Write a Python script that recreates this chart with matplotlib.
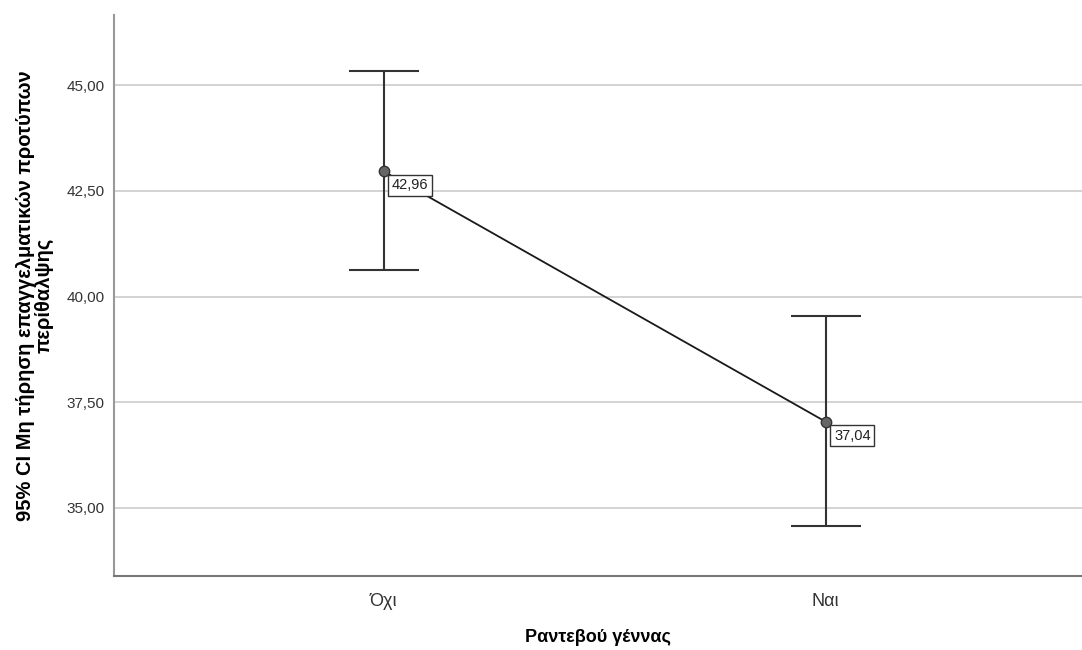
import matplotlib
matplotlib.use('Agg')
import matplotlib.pyplot as plt

plt.rcParams['font.family'] = ['Liberation Sans', 'DejaVu Sans']

# δεδομένα
categories = ['Όχι', 'Ναι']
means = [42.96, 37.04]
ci_low = [40.62, 34.57]
ci_high = [45.33, 39.55]
mean_labels = ['42,96', '37,04']
yticks = [35.0, 37.5, 40.0, 42.5, 45.0]
ytick_labels = ['35,00', '37,50', '40,00', '42,50', '45,00']

fig = plt.figure(figsize=(10.82, 6.5), dpi=100)
ax = fig.add_axes([0.1054, 0.1138, 0.8946, 0.8632])

x = [1, 2]
err_low = [m - l for m, l in zip(means, ci_low)]
err_high = [h - m for m, h in zip(means, ci_high)]

ax.errorbar(x, means, yerr=[err_low, err_high], fmt='none', ecolor='#333333',
            elinewidth=1.5, capsize=25, capthick=1.5, zorder=3)
ax.plot(x, means, color='#1a1a1a', linewidth=1.3, zorder=4)
ax.plot(x, means, 'o', markersize=7.5, markerfacecolor='#666666',
        markeredgecolor='#333333', markeredgewidth=1, zorder=5)

for xi, m, lab in zip(x, means, mean_labels):
    ax.annotate(lab, (xi, m), xytext=(6, -5), textcoords='offset points',
                ha='left', va='top', fontsize=10.5, color='#222222',
                bbox=dict(boxstyle='square,pad=0.25', facecolor='white',
                          edgecolor='#333333', linewidth=1), zorder=6)

ax.set_xlim(0.39, 2.58)
ax.set_ylim(33.39, 46.66)
ax.set_xticks(x)
ax.set_xticklabels(categories, fontsize=13, color='#333333')
ax.set_yticks(yticks)
ax.set_yticklabels(ytick_labels, fontsize=11, color='#333333')
ax.tick_params(axis='y', length=0, pad=7)
ax.tick_params(axis='x', length=0, pad=12)

ax.yaxis.grid(True, color='#cccccc', linewidth=1.2)
ax.set_axisbelow(True)
for s in ['top', 'right']:
    ax.spines[s].set_visible(False)
ax.spines['left'].set_color('#999999')
ax.spines['left'].set_linewidth(1.5)
ax.spines['bottom'].set_color('#777777')
ax.spines['bottom'].set_linewidth(1.5)

ax.set_xlabel('Ραντεβού γέννας', fontsize=13, fontweight='bold', labelpad=14)
ax.set_ylabel('95% CI Μη τήρηση επαγγελματικών προτύπων\nπερίθαλψης',
              fontsize=14.5, fontweight='bold', labelpad=9, linespacing=0.95)

fig.savefig('out.png', dpi=100)
